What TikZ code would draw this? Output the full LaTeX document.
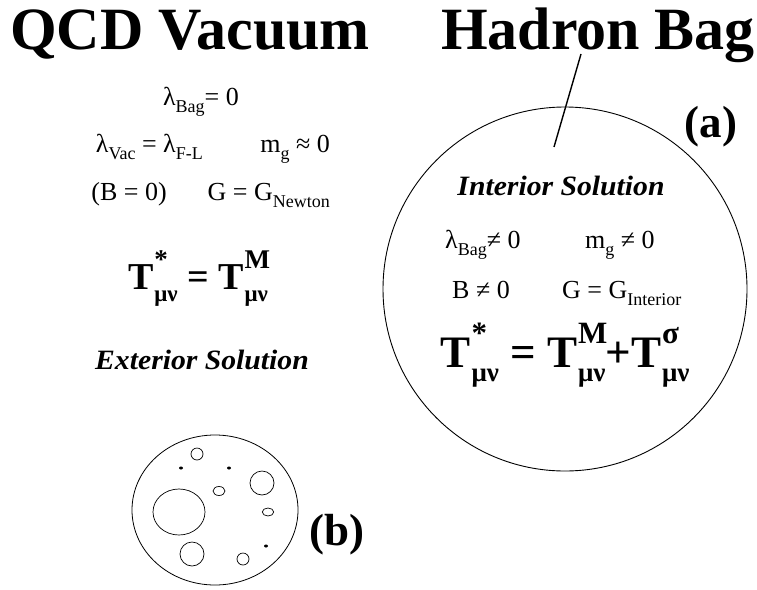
\documentclass[tikz,border=0pt]{standalone}
\usepackage{fontspec}
\setmainfont{Liberation Serif}
\usetikzlibrary{shapes.geometric}
\newcommand\lsub[1]{\raisebox{-0.3em}{\fontsize{18}{18}\selectfont #1}}
\newcommand\tensL[2]{T\kern1pt\raisebox{-0.32em}{\rlap{\raisebox{0.85em}{\fontsize{27}{27}\selectfont\bfseries #1}}\fontsize{23}{23}\selectfont\bfseries #2}}
\newcommand\tensR[2]{T\kern1pt\raisebox{-0.32em}{\rlap{\raisebox{0.85em}{\fontsize{31}{31}\selectfont\bfseries #1}}\fontsize{27}{27}\selectfont\bfseries #2}}
\begin{document}
\begin{tikzpicture}[x=1pt,y=-1pt]
\useasboundingbox (0,0) rectangle (757,589);
\tikzset{
  title/.style={font=\fontsize{60}{60}\selectfont\bfseries, inner sep=0, anchor=base},
  eqn/.style={font=\fontsize{26}{26}\selectfont, inner sep=0},
  soln/.style={font=\fontsize{28}{28}\selectfont\bfseries\itshape, inner sep=0, anchor=base},
  lab/.style={font=\fontsize{45}{45}\selectfont\bfseries, inner sep=0, anchor=base},
  outline/.style={draw, line width=0.9pt},
  pore/.style={draw, line width=0.7pt},
  dotm/.style={fill=black}
}
% titles
\node[title] (qcd) at (190,49) {QCD Vacuum};
\node[title] (hb) at (598,49) {Hadron Bag};
% exterior
\node[eqn, anchor=base east] (lb0) at (239,105) {λ\lsub{Bag}= 0};
\node[eqn, anchor=base east] (lvac) at (203,152) {λ\lsub{Vac} = λ\lsub{F-L}};
\node[eqn, anchor=base east] (mg0) at (330,152) {m\lsub{g} ≈ 0};
\node[eqn, anchor=base east] (b0) at (167,200) {(B = 0)};
\node[eqn, anchor=base east] (gn) at (330,200) {G = G\lsub{Newton}};
\node[inner sep=0, anchor=base, font=\fontsize{38}{38}\selectfont\bfseries] (teq1) at (198,289) {\tensL{*}{μν} = \tensL{M}{μν}};
\node[soln] (ext) at (202,369) {\scalebox{1.06}[1]{Exterior Solution}};
% hadron bag
\node[outline, circle, minimum size=364pt, inner sep=0] (bag) at (565,289) {};
\coordinate (lt) at (581,54);
\coordinate (lbt) at (554,147);
\draw[line width=1.4pt] (lt) -- (lbt);
\node[lab] (a) at (711,137) {(a)};
\node[soln] (int) at (561,195) {\scalebox{1.06}[1]{Interior Solution}};
\node[eqn, anchor=base west] (lbn) at (445,248) {λ\lsub{Bag}≠ 0};
\node[eqn, anchor=base west] (mgn) at (585,248) {m\lsub{g} ≠ 0};
\node[eqn, anchor=base west] (bn) at (452,298) {B ≠ 0};
\node[eqn, anchor=base west] (gi) at (562,298) {G = G\lsub{Interior}};
\node[inner sep=0, anchor=base, font=\fontsize{45}{45}\selectfont\bfseries] (teq2) at (565,367) {\tensR{*}{μν} = \tensR{M}{μν}+\tensR{σ}{μν}};
% vacuum droplet
\node[draw, line width=0.8pt, ellipse, minimum width=166pt, minimum height=150pt, inner sep=0] (drop) at (215,510) {};
\node[lab] (b) at (337,545) {(b)};
\draw[pore] (197,454) circle (6);
\draw[pore] (262,483) circle (12);
\draw[pore] (219,491) ellipse (6 and 4.5);
\draw[pore] (179,512) ellipse (26 and 23);
\draw[pore] (268,512) ellipse (5.7 and 4);
\draw[pore] (192,554) ellipse (12 and 12);
\draw[pore] (243,559) circle (6);
\fill[dotm] (181,468) ellipse (2 and 1.5);
\fill[dotm] (229,468) ellipse (2 and 1.5);
\fill[dotm] (266,546) ellipse (2 and 1.5);
\end{tikzpicture}
\end{document}
